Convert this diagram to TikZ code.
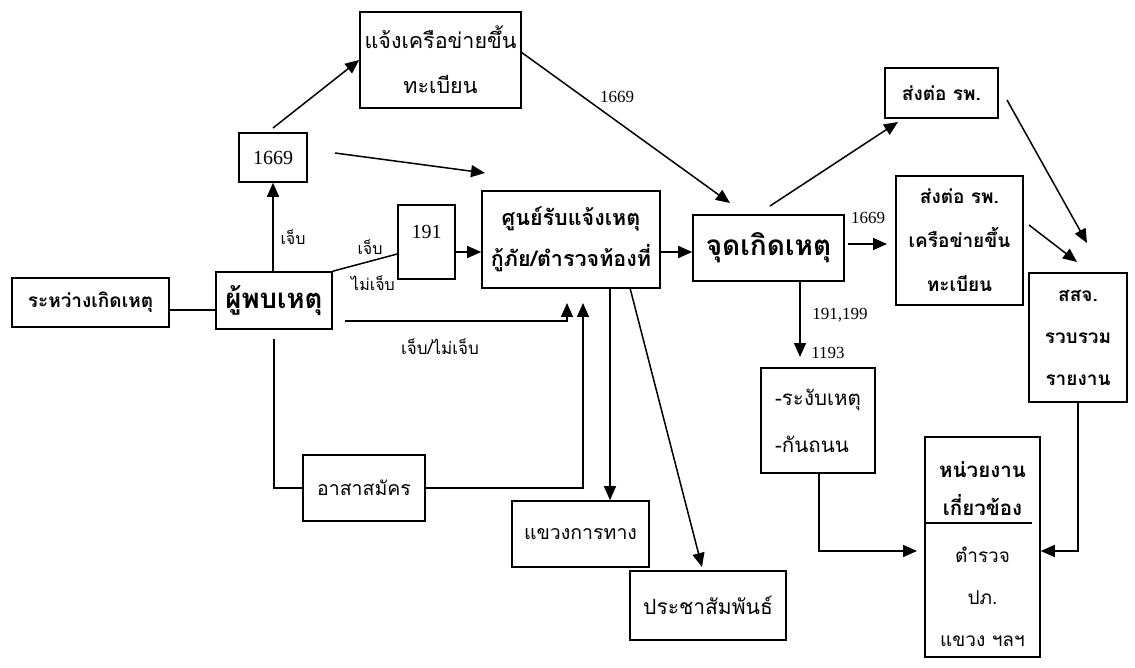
\documentclass[tikz,border=0pt]{standalone}
\usepackage{fontspec}
\setmainfont{Liberation Serif}
\newfontfamily\thai[Script=Thai]{Loma}
\usetikzlibrary{arrows.meta}
\begin{document}
\begin{tikzpicture}[x=1pt,y=-1pt,
  box/.style={draw,line width=1.6pt,inner sep=0pt,align=center},
  ln/.style={line width=1.5pt},
  arr/.style={line width=1.5pt,-{Triangle[length=14pt,width=12pt]}},
  th/.style={font=\thai\fontsize{19.5}{44}\selectfont},
  thb/.style={font=\thai\bfseries\fontsize{19}{44}\selectfont},
  thbig/.style={font=\thai\bfseries\fontsize{28}{30}\selectfont},
  thlab/.style={font=\thai\fontsize{16}{18}\selectfont,inner sep=0pt},
  num/.style={font=\fontsize{20}{24}\selectfont},
  numlab/.style={font=\fontsize{17}{20}\selectfont,inner sep=0pt}
]
\useasboundingbox (0,0) rectangle (1135,668);
\fill[white] (0,0) rectangle (1135,668);

% boxes
\node[box,font=\thai\fontsize{21.5}{45}\selectfont,minimum width=161pt,minimum height=96pt] (net) at (440.5,60) {แจ้งเครือข่ายขึ้น\\ทะเบียน};
\node[box,num,minimum width=68pt,minimum height=49pt] (b1669) at (273,157.5) {1669};
\node[box,num,minimum width=57pt,minimum height=74pt] (b191) at (426.5,242) {191\\[-4pt]\phantom{1}};
\node[box,font=\thai\bfseries\fontsize{21.5}{41}\selectfont,minimum width=178pt,minimum height=97pt] (center) at (571,239.5) {ศูนย์รับแจ้งเหตุ\\กู้ภัย/ตำรวจท้องที่};
\node[box,thbig,minimum width=151pt,minimum height=66pt] (scene) at (768.5,248) {จุดเกิดเหตุ};
\node[box,thb,minimum width=113pt,minimum height=50pt] (hosp) at (941.5,93) {ส่งต่อ รพ.};
\node[box,thb,minimum width=127pt,minimum height=129pt] (hospnet) at (959.5,240.5) {ส่งต่อ รพ.\\เครือข่ายขึ้น\\ทะเบียน};
\node[box,font=\thai\bfseries\fontsize{19}{42}\selectfont,minimum width=98pt,minimum height=129pt] (pho) at (1078,337.5) {สสจ.\\รวบรวม\\รายงาน};
\node[box,thb,minimum width=157pt,minimum height=49pt] (during) at (90.5,302.5) {ระหว่างเกิดเหตุ};
\node[box,font=\thai\bfseries\fontsize{27.5}{30}\selectfont,minimum width=116pt,minimum height=57pt] (finder) at (274,300.5) {ผู้พบเหตุ};
\node[box,th,minimum width=122pt,minimum height=66pt] (vol) at (364,488) {อาสาสมัคร};
\node[box,th,minimum width=137pt,minimum height=66pt] (road) at (580.5,534) {แขวงการทาง};
\node[box,font=\thai\fontsize{21}{44}\selectfont,minimum width=156pt,minimum height=69pt] (pr) at (708,605.5) {ประชาสัมพันธ์};
\node[box,font=\thai\fontsize{20.5}{47}\selectfont,align=left,minimum width=114pt,minimum height=105pt] (stop) at (818,420.5) {-ระงับเหตุ\\-กันถนน};
\node[box,minimum width=115pt,minimum height=220pt] (agency) at (982.5,547) {};
\node[font=\thai\bfseries\fontsize{20.5}{38}\selectfont,align=center,inner sep=0pt] (ag1) at (982.5,489) {หน่วยงาน\\เกี่ยวข้อง};
\node[font=\thai\fontsize{19}{42}\selectfont,align=center,inner sep=0pt] (ag2) at (982.5,597) {ตำรวจ\\ปภ.\\แขวง ฯลฯ};
\coordinate (dv) at (1032,523);
\draw[ln] (agency.west |- dv) -- (dv);

% labels
\node[thlab] (l1) at (293,237) {เจ็บ};
\node[thlab] (l2) at (370,247) {เจ็บ};
\node[thlab] (l3) at (373,283) {ไม่เจ็บ};
\node[thlab,font=\thai\fontsize{17}{18}\selectfont] (l4) at (440,347) {เจ็บ/ไม่เจ็บ};
\node[numlab] (l5) at (617,97) {1669};
\node[numlab] (l6) at (868,218) {1669};
\node[numlab] (l7) at (840,315) {191,199};
\node[numlab] (l8) at (828,353) {1193};

% coordinates
\coordinate (a1s) at (273,128);
\coordinate (a2s) at (335,153);
\coordinate (a2e) at (485,173);
\coordinate (f1) at (345,321);
\coordinate (t1) at (567,303);
\coordinate (t2) at (583,303);
\coordinate (f2) at (274,339);
\coordinate (d1) at (610,0);
\coordinate (d2) at (630,288);
\coordinate (p2) at (702,567);
\coordinate (ns) at (521,52);
\coordinate (s1) at (730,203);
\coordinate (s2) at (770,206);
\coordinate (h1) at (898,122);
\coordinate (e1) at (848,244);
\coordinate (e2) at (887,244);
\coordinate (q1) at (1029,225);
\coordinate (q2) at (1077,262);
\coordinate (r1) at (1007,100);
\coordinate (r2) at (1087,243);
\coordinate (dn) at (800,357);
\coordinate (y551) at (0,551);
\coordinate (sa) at (819,473);
\coordinate (sb) at (917,551);

% connectors
\draw[ln] (during.east |- 0,310) -- (finder.west |- 0,310);
\draw[arr] (finder.north -| b1669.south) -- (b1669.south);
\draw[arr] (a1s) -- (net.west);
\draw[arr] (a2s) -- (a2e);
\draw[ln] (finder.north east) -- (b191.west |- 0,254);
\draw[arr] (b191.east |- 0,252) -- (center.west |- 0,252);
\draw[arr] (f1) -| (t1);
\draw[ln] (f2) |- (vol.west);
\draw[arr] (vol.east) -| (t2);
\draw[arr] (center.south -| d1) -- (road.north -| d1);
\draw[arr] (d2) -- (p2);
\draw[arr] (center.east |- 0,252) -- (scene.west |- 0,252);
\draw[arr] (ns) -- (s1);
\draw[arr] (s2) -- (h1);
\draw[arr] (e1) -- (e2);
\draw[arr] (q1) -- (q2);
\draw[arr] (r1) -- (r2);
\draw[arr] (scene.south -| dn) -- (dn);
\draw[arr] (sa) |- (sb);
\draw[arr] (pho.south) |- (agency.east |- y551);
\end{tikzpicture}
\end{document}
